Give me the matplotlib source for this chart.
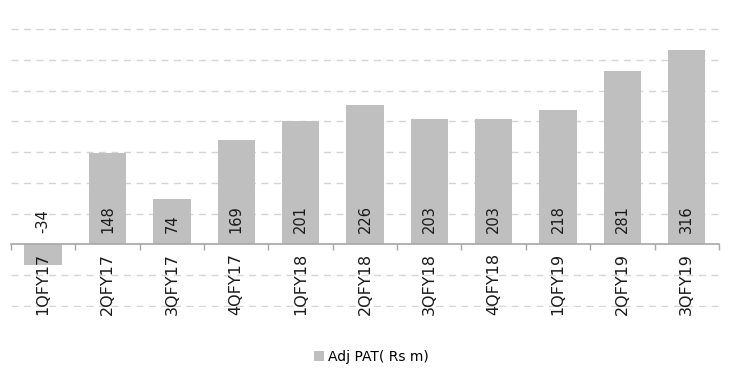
import numpy as np
import matplotlib
matplotlib.use('Agg')
import matplotlib.pyplot as plt
from matplotlib.patches import Patch

quarters = ['1QFY17', '2QFY17', '3QFY17', '4QFY17', '1QFY18', '2QFY18',
            '3QFY18', '4QFY18', '1QFY19', '2QFY19', '3QFY19']
adj_pat = [-34, 148, 74, 169, 201, 226, 203, 203, 218, 281, 316]
grid_levels = [-100, -50, 50, 100, 150, 200, 250, 300, 350]

plt.rcParams['font.family'] = ['DejaVu Sans']

fig = plt.figure(figsize=(7.31, 3.70), dpi=100)
ax = fig.add_axes([0.015, 0.170, 0.9685, 0.755])
ax.set_axisbelow(False)

x = np.arange(len(quarters))
bar_color = '#bfbfbf'

# dashed horizontal grid, zero line drawn by the spine
for g in grid_levels:
    ax.axhline(g, color='#d4d4d4', lw=1.0, ls=(0, (5, 4)), zorder=0)

ax.bar(x, adj_pat, width=0.58, color=bar_color, zorder=2)

for xi, v in zip(x, adj_pat):
    ax.text(xi, 19, f'{v}', rotation=90, ha='center', va='bottom',
            fontsize=10.5, color='#1a1a1a', zorder=3)

ax.set_xlim(-0.5, len(quarters) - 0.5)
ax.set_ylim(-102, 352)

for s in ['left', 'right', 'top']:
    ax.spines[s].set_visible(False)
ax.spines['bottom'].set_position(('data', 0))
ax.spines['bottom'].set_color('#a6a6a6')
ax.spines['bottom'].set_linewidth(1.2)

ax.set_yticks([])
ax.set_xticks(x)
ax.set_xticklabels(quarters, rotation=90, fontsize=11.5, color='#1a1a1a')
ax.tick_params(axis='x', which='major', length=0, pad=6)
ax.set_xticks(np.arange(-0.5, len(quarters)), minor=True)
ax.tick_params(axis='x', which='minor', length=4, width=1, color='#a6a6a6', direction='out')

fig.legend(handles=[Patch(facecolor=bar_color, label='Adj PAT( Rs m)')],
           loc='center', bbox_to_anchor=(0.508, 0.035), frameon=False,
           fontsize=10, handlelength=0.7, handleheight=0.7, handletextpad=0.3)

plt.savefig('out.png', dpi=100, facecolor='white')
plt.close()
